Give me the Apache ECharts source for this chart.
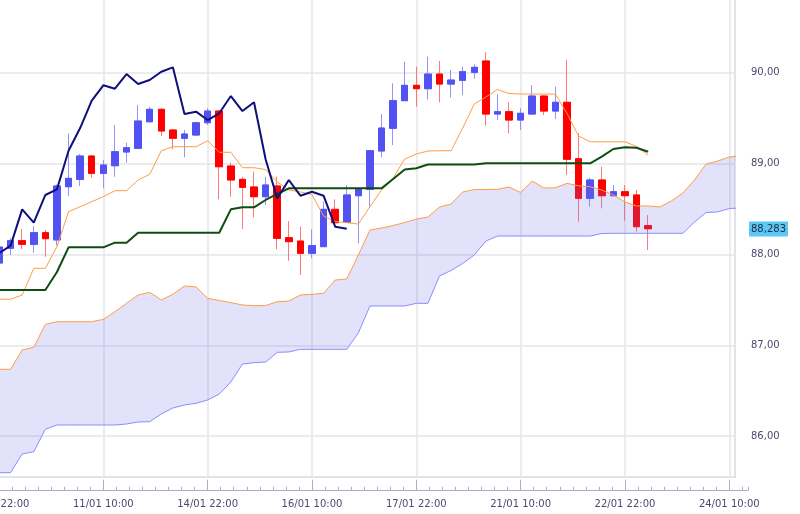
<!DOCTYPE html>
<html>
<head>
<meta charset="utf-8">
<script src="https://cdn.jsdelivr.net/npm/echarts@6/dist/echarts.min.js"></script>
<style>
html,body{margin:0;padding:0;background:#ffffff;}
#chart{width:800px;height:514px;}
</style>
</head>
<body>
<div id="chart"></div>
<script>
// ---- data (4-hour candles, index 0 = 09/01 22:00) ----
const tickLabels = ['09/01 22:00','11/01 10:00','14/01 22:00','16/01 10:00','17/01 22:00','21/01 10:00','22/01 22:00','24/01 10:00'];

const opens = [87.906,88.068,88.152,88.112,88.240,88.160,88.746,88.827,89.084,88.893,
  88.977,89.128,89.169,89.461,89.598,89.370,89.279,89.315,89.450,89.579,
  88.974,88.827,88.743,88.636,88.754,88.185,88.148,88.013,88.086,88.497,
  88.354,88.647,88.717,89.139,89.389,89.693,89.862,89.825,89.986,89.876,
  89.917,90.005,90.130,89.546,89.572,89.480,89.546,89.744,89.579,89.675,
  89.054,88.618,88.820,88.647,88.691,88.655,88.317];
const closes = [88.082,88.152,88.112,88.240,88.174,88.754,88.838,89.084,88.893,88.985,
  89.131,89.175,89.469,89.598,89.359,89.279,89.326,89.450,89.579,88.966,
  88.820,88.739,88.636,88.765,88.178,88.141,88.013,88.097,88.497,88.350,
  88.655,88.717,89.142,89.392,89.693,89.862,89.825,89.986,89.876,89.920,
  90.012,90.060,89.546,89.572,89.480,89.554,89.744,89.579,89.675,89.048,
  88.618,88.820,88.647,88.691,88.647,88.306,88.283];
const highs = [88.115,88.181,88.280,88.313,88.269,88.770,89.334,89.106,89.095,89.040,
  89.425,89.230,89.645,89.627,89.609,89.381,89.370,89.461,89.609,89.590,
  89.010,88.856,88.911,88.856,88.856,88.368,88.306,88.277,88.581,88.607,
  88.765,88.717,89.142,89.546,89.884,90.122,90.067,90.177,90.130,90.031,
  90.067,90.093,90.225,89.763,89.675,89.609,89.865,89.755,89.847,90.141,
  89.334,88.845,88.966,88.765,88.765,88.710,88.434];
const lows = [87.873,87.994,88.060,88.019,87.975,88.100,88.644,88.754,88.845,88.728,
  88.856,89.010,89.160,89.455,89.304,89.158,89.070,89.304,89.425,88.607,
  88.636,88.280,88.409,88.545,88.057,87.931,87.774,87.958,88.086,88.350,
  88.354,88.123,88.526,89.070,89.205,89.693,89.627,89.708,89.675,89.726,
  89.755,89.935,89.417,89.480,89.334,89.370,89.546,89.535,89.491,88.875,
  88.361,88.526,88.508,88.647,88.372,88.251,88.049];

const tenkan = [87.507,87.507,87.554,87.848,87.848,88.086,88.471,88.526,88.581,88.636,
  88.702,88.702,88.820,88.882,89.142,89.186,89.186,89.186,89.252,89.125,
  89.125,88.955,88.955,88.935,88.798,88.710,88.688,88.660,88.423,88.363,
  88.350,88.335,88.526,88.710,88.842,89.051,89.106,89.139,89.142,89.142,
  89.392,89.656,89.733,89.816,89.772,89.766,89.766,89.766,89.766,89.552,
  89.304,89.241,89.241,89.241,89.241,89.189,89.095];
const kijun = [87.609,87.609,87.609,87.609,87.609,87.807,88.079,88.079,88.079,88.079,
  88.130,88.130,88.240,88.240,88.240,88.240,88.240,88.240,88.240,88.240,
  88.497,88.519,88.519,88.600,88.666,88.728,88.728,88.728,88.728,88.728,
  88.728,88.728,88.728,88.728,88.831,88.935,88.949,88.990,88.990,88.990,
  88.990,88.990,89.004,89.004,89.004,89.004,89.004,89.004,89.004,89.004,
  89.004,89.004,89.078,89.161,89.180,89.175,89.131];
const senkouA = [86.736,86.736,86.949,86.978,87.231,87.260,87.260,87.260,87.260,87.286,
  87.370,87.462,87.554,87.584,87.499,87.562,87.653,87.642,87.518,87.493,
  87.471,87.444,87.436,87.438,87.480,87.488,87.554,87.562,87.573,87.719,
  87.730,87.994,88.269,88.291,88.319,88.352,88.390,88.412,88.523,88.556,
  88.688,88.715,88.715,88.717,88.743,88.682,88.809,88.732,88.735,88.783,
  88.757,88.746,88.710,88.655,88.578,88.534,88.534,88.523,88.589,88.677,
  88.820,88.996,89.029,89.073,89.084];
const senkouB = [85.598,85.598,85.804,85.829,86.076,86.123,86.123,86.123,86.123,86.123,
  86.123,86.134,86.156,86.159,86.244,86.310,86.343,86.362,86.398,86.464,
  86.596,86.794,86.809,86.816,86.923,86.927,86.956,86.956,86.956,86.956,
  86.956,87.136,87.433,87.433,87.433,87.433,87.462,87.462,87.763,87.824,
  87.901,87.994,88.148,88.203,88.203,88.203,88.203,88.203,88.203,88.203,
  88.203,88.203,88.231,88.233,88.233,88.233,88.233,88.233,88.233,88.233,
  88.357,88.462,88.468,88.506,88.512];
const chikouShift = 26;
const lastPrice = 88.283;

// ---- chart ----
const FONT = 'DejaVu Sans';
const TXT = '#4a4a70';
const AX = '#a9b1c6';
const fmtY = v => v.toFixed(2).replace('.', ',');
const fmtY3 = v => v.toFixed(3).replace('.', ',');

const candleFull = opens.map((o, i) => [i, o, closes[i], lows[i], highs[i]]);
const candleBody = opens.map((o, i) => [i, o, closes[i], Math.min(o, closes[i]), Math.max(o, closes[i])]);
const xy = arr => arr.map((v, i) => [i, v]);

const gridPlot  = {left: -1, right: 65, top: -2, bottom: 37, show: true, borderColor: '#d5d9e4', borderWidth: 2, backgroundColor: 'transparent', outerBoundsMode: 'none', containLabel: false};
const gridFrame = {left: -1, right: 52, top: -2, bottom: 23.3, show: false, outerBoundsMode: 'none', containLabel: false};

const option = {
  animation: false,
  backgroundColor: '#ffffff',
  grid: [gridPlot, gridFrame, Object.assign({}, gridFrame)],
  xAxis: [
    {gridIndex: 0, type: 'value', min: 0, max: 63.492, interval: 9,
      axisLine: {show: false}, axisTick: {show: false}, axisLabel: {show: false},
      splitLine: {show: true, lineStyle: {color: '#e6e6e8', width: 1.5}}},
    {gridIndex: 1, type: 'value', min: 0, max: 64.614, interval: 9, position: 'bottom',
      axisLine: {show: true, lineStyle: {color: AX, width: 1}},
      axisTick: {show: true, inside: true, length: 11, lineStyle: {color: AX}},
      axisLabel: {show: true, margin: 9, color: TXT, fontFamily: FONT, fontSize: 10, showMaxLabel: false,
        formatter: v => { const k = Math.round(v / 9); return (Math.abs(v - 9 * k) < 1e-6 && tickLabels[k]) ? tickLabels[k] : ''; }},
      splitLine: {show: false}},
    {gridIndex: 2, type: 'value', min: 0, max: 64.614, interval: 1.125, position: 'bottom',
      axisLine: {show: false},
      axisTick: {show: true, inside: true, length: 4, lineStyle: {color: AX}},
      axisLabel: {show: false}, splitLine: {show: false}}
  ],
  yAxis: [
    {gridIndex: 0, type: 'value', min: 85.5506, max: 90.8233, splitNumber: 5, position: 'right',
      axisLine: {show: false}, axisTick: {show: false}, axisLabel: {show: false},
      splitLine: {show: true, lineStyle: {color: '#e6e6e8', width: 1.5}}},
    {gridIndex: 1, type: 'value', min: 85.4, max: 90.8233, splitNumber: 5, position: 'right',
      axisLine: {show: true, lineStyle: {color: AX, width: 1}},
      axisTick: {show: true, inside: true, length: 13, lineStyle: {color: AX}},
      axisLabel: {show: true, margin: 3, color: TXT, fontFamily: FONT, fontSize: 10,
        showMinLabel: false, showMaxLabel: false, formatter: fmtY},
      splitLine: {show: false}},
    {gridIndex: 2, type: 'value', min: 85.4, max: 90.8233, interval: 0.1, position: 'right',
      axisLine: {show: false},
      axisTick: {show: true, inside: true, length: 5, lineStyle: {color: AX}},
      axisLabel: {show: false}, splitLine: {show: false}}
  ],
  series: [
    {name: 'wicks', type: 'candlestick', xAxisIndex: 0, yAxisIndex: 0, z: 2,
      barWidth: 7, data: candleFull, silent: true,
      itemStyle: {color: '#9393ff', color0: '#ff7878', borderColor: '#9393ff', borderColor0: '#ff7878', borderWidth: 1}},
    {name: 'bodies', type: 'candlestick', xAxisIndex: 0, yAxisIndex: 0, z: 2,
      barWidth: 7, data: candleBody, silent: true,
      itemStyle: {color: '#5252f2', color0: '#ff0000', borderColor: '#5252f2', borderColor0: '#ff0000', borderWidth: 1},
      markLine: {silent: true, symbol: ['none', 'none'], animation: false,
        data: [{yAxis: lastPrice}],
        lineStyle: {color: 'rgba(0,0,0,0)', width: 0},
        label: {show: true, position: 'end', distance: 14, formatter: () => fmtY3(lastPrice),
          backgroundColor: '#5cc8f3', color: '#1b2a44', padding: [3, 2, 2, 2],
          fontFamily: FONT, fontSize: 10}}},
    {name: 'cloud', type: 'custom', xAxisIndex: 0, yAxisIndex: 0, z: 3, silent: true, clip: true,
      data: [[0, senkouA[0]]],
      renderItem: (params, api) => {
        if (params.dataIndex !== 0) return null;
        const top = senkouA.map((v, i) => api.coord([i, v]));
        const bot = senkouB.map((v, i) => api.coord([i, v])).reverse();
        return {type: 'polygon', shape: {points: top.concat(bot)},
          style: {fill: 'rgba(110,110,235,0.2)', stroke: null}};
      }},
    {name: 'senkouB', type: 'line', xAxisIndex: 0, yAxisIndex: 0, z: 4,
      data: xy(senkouB), symbol: 'none', silent: true,
      lineStyle: {color: '#8c8cff', width: 1}},
    {name: 'senkouA', type: 'line', xAxisIndex: 0, yAxisIndex: 0, z: 4,
      data: xy(senkouA), symbol: 'none', silent: true,
      lineStyle: {color: '#ff9c42', width: 1}},
    {name: 'tenkan', type: 'line', xAxisIndex: 0, yAxisIndex: 0, z: 5,
      data: xy(tenkan), symbol: 'none', silent: true,
      lineStyle: {color: '#ff9c42', width: 1}},
    {name: 'kijun', type: 'line', xAxisIndex: 0, yAxisIndex: 0, z: 5,
      data: xy(kijun), symbol: 'none', silent: true,
      lineStyle: {color: '#0d4d10', width: 2}},
    {name: 'chikou', type: 'line', xAxisIndex: 0, yAxisIndex: 0, z: 6,
      data: closes.map((c, i) => [i - chikouShift, c]), symbol: 'none', silent: true,
      lineStyle: {color: '#0f0f7c', width: 2}}
  ]
};

const chart = echarts.init(document.getElementById('chart'), null, {renderer: 'canvas'});
chart.setOption(option);
</script>
</body>
</html>
